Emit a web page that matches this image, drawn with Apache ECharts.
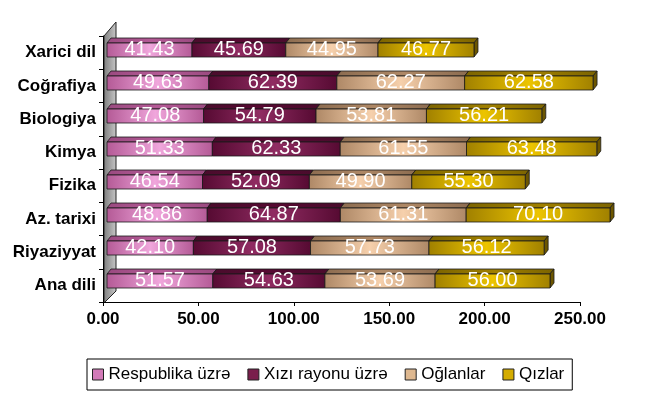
<!DOCTYPE html>
<html>
<head>
<meta charset="utf-8">
<script src="https://cdn.jsdelivr.net/npm/echarts@6/dist/echarts.min.js"></script>
<style>html,body{margin:0;padding:0;background:#fff}#c{width:650px;height:394px}</style>
</head>
<body>
<div id="c"></div>
<script>
const categories = ['Ana dili', 'Riyaziyyat', 'Az. tarixi', 'Fizika', 'Kimya', 'Biologiya', 'Coğrafiya', 'Xarici dil'];
const respublika = [51.57, 42.10, 48.86, 46.54, 51.33, 47.08, 49.63, 41.43];
const xizi = [54.63, 57.08, 64.87, 52.09, 62.33, 54.79, 62.39, 45.69];
const oglanlar = [53.69, 57.73, 61.31, 49.90, 61.55, 53.81, 62.27, 44.95];
const qizlar = [56.00, 56.12, 70.10, 55.30, 63.48, 56.21, 62.58, 46.77];
const seriesNames = ['Respublika üzrə', 'Xızı rayonu üzrə', 'Oğlanlar', 'Qızlar'];
const xTicks = [0, 50, 100, 150, 200, 250];

const seriesValues = [respublika, xizi, oglanlar, qizlar];
const palette = [
  {dark: '#b45a96', light: '#f0a6dc', top: '#9a4a80', side: '#8a3c70', icon: '#d27ab8'},
  {dark: '#560a32', light: '#902c62', top: '#4a0c2c', side: '#3e0826', icon: '#7a1e4c'},
  {dark: '#ae8866', light: '#f6d0ac', top: '#8c6c50', side: '#7a5c42', icon: '#deb890'},
  {dark: '#a08000', light: '#ecc400', top: '#7c6400', side: '#6c5600', icon: '#d4ac00'}
];

// cumulative stacks built from arrays
const stacked = seriesValues.map(function (vals, si) {
  return vals.map(function (v, ci) {
    let start = 0;
    for (let k = 0; k < si; k++) start += seriesValues[k][ci];
    return [start, start + v, ci, v];
  });
});

function renderItem(params, api) {
  const s = api.value(0), e = api.value(1), ci = api.value(2), v = api.value(3);
  const p0 = api.coord([s, ci]);
  const p1 = api.coord([e, ci]);
  const h = 14, dx = 4, dy = 5;
  const x0 = p0[0], x1 = p1[0], yc = p0[1];
  const yt = yc - h / 2, yb = yc + h / 2;
  const c = palette[params.seriesIndex];
  const front = new echarts.graphic.LinearGradient(0, 0, 1, 0, [
    {offset: 0, color: c.dark}, {offset: 0.5, color: c.light}, {offset: 1, color: c.dark}
  ]);
  const top = new echarts.graphic.LinearGradient(0, 0, 1, 0, [
    {offset: 0, color: c.top}, {offset: 0.5, color: c.dark}, {offset: 1, color: c.top}
  ]);
  return {
    type: 'group',
    children: [
      {type: 'polygon', shape: {points: [[x0, yt], [x0 + dx, yt - dy], [x1 + dx, yt - dy], [x1, yt]]},
        style: {fill: top, stroke: '#1a1a1a', lineWidth: 0.8}},
      {type: 'polygon', shape: {points: [[x1, yt], [x1 + dx, yt - dy], [x1 + dx, yb - dy], [x1, yb]]},
        style: {fill: c.side, stroke: '#1a1a1a', lineWidth: 0.8}},
      {type: 'rect', shape: {x: x0, y: yt, width: x1 - x0, height: h},
        style: {fill: front, stroke: '#1a1a1a', lineWidth: 0.8}},
      {type: 'text', x: (x0 + x1) / 2, y: yc - 1,
        style: {text: v.toFixed(2), fill: '#ffffff', font: '20px "Liberation Sans", Arial, sans-serif',
          align: 'center', verticalAlign: 'middle'}}
    ]
  };
}

const chart = echarts.init(document.getElementById('c'), null, {renderer: 'canvas'});
const option = {
  backgroundColor: '#ffffff',
  animation: false,
  graphic: [
    {type: 'polygon', z: 0,
      shape: {points: [[104, 36], [116, 22], [116, 291], [104, 303]]},
      style: {fill: new echarts.graphic.LinearGradient(0, 0, 1, 0, [
        {offset: 0, color: '#7c7c7c'}, {offset: 1, color: '#c8c8c8'}]), stroke: '#222', lineWidth: 1}}
  ],
  legend: {
    left: 87, top: 359,
    padding: [7, 8, 7, 5],
    itemGap: 17,
    itemWidth: 11, itemHeight: 11,
    borderColor: '#000', borderWidth: 1,
    textStyle: {fontFamily: '"Liberation Sans", Arial, sans-serif', fontSize: 17, color: '#000'},
    data: seriesNames.map(function (n, i) {
      return {name: n, icon: 'rect', itemStyle: {color: palette[i].icon, borderColor: '#222', borderWidth: 1}};
    })
  },
  grid: [
    {left: 103, width: 477, top: 36, height: 266, containLabel: false},
    {left: 107, width: 513, top: 33.5, height: 264, containLabel: false}
  ],
  xAxis: [
    {type: 'value', gridIndex: 0, min: xTicks[0], max: xTicks[xTicks.length - 1], interval: 50,
      axisLine: {show: true, lineStyle: {color: '#000', width: 1}},
      axisTick: {show: true, length: 4, lineStyle: {color: '#000'}},
      splitLine: {show: false},
      axisLabel: {margin: 9, color: '#000', fontWeight: 'bold', fontSize: 17,
        fontFamily: '"Liberation Sans", Arial, sans-serif',
        formatter: function (v) { return v.toFixed(2); }}},
    {type: 'value', gridIndex: 1, min: 0, max: 250, show: false}
  ],
  yAxis: [
    {type: 'category', gridIndex: 0, data: categories,
      axisLine: {show: true, lineStyle: {color: '#000'}},
      axisTick: {show: true, length: 4, lineStyle: {color: '#000'}},
      axisLabel: {margin: 7, color: '#000', fontWeight: 'bold', fontSize: 17,
        fontFamily: '"Liberation Sans", Arial, sans-serif'}},
    {type: 'category', gridIndex: 1, data: categories, show: false}
  ],
  series: stacked.map(function (d, i) {
    return {
      name: seriesNames[i], type: 'custom', coordinateSystem: 'cartesian2d',
      xAxisIndex: 1, yAxisIndex: 1, z: 5,
      itemStyle: {color: palette[i].icon},
      encode: {x: [0, 1], y: 2},
      renderItem: renderItem,
      data: d
    };
  })
};
chart.setOption(option);
</script>
</body>
</html>
